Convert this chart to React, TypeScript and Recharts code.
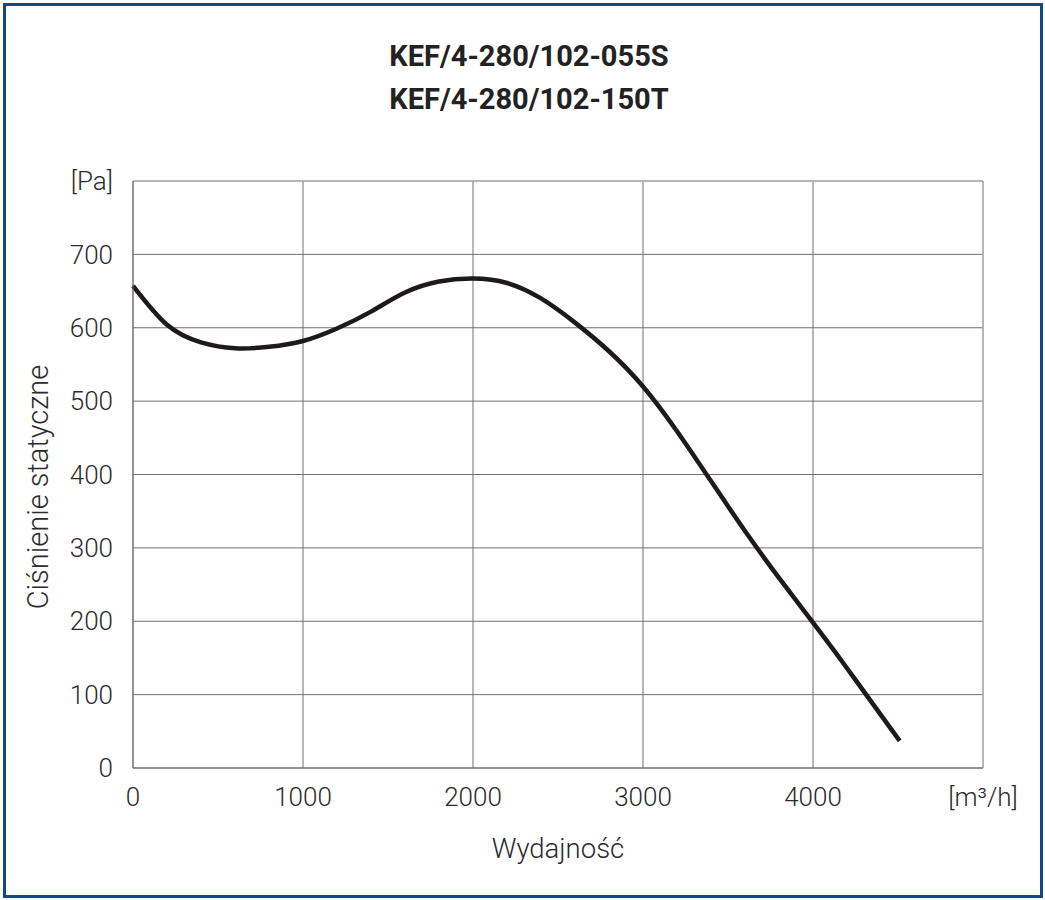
import { CartesianGrid, Line, LineChart, ReferenceLine, XAxis, YAxis } from 'recharts'

// Charakterystyka wentylatora: wydajność [m3/h] -> ciśnienie statyczne [Pa]
const wydajnosc = [0, 200, 400, 600, 800, 1000, 1200, 1400, 1600, 1800, 2000, 2200, 2400, 2600, 2800, 3000, 3200, 3400, 3600, 3800, 4000, 4200, 4400, 4510]
const cisnienie = [657, 604, 580, 572, 574, 582, 599, 622, 648, 663, 667, 661, 640, 607, 568, 520, 459, 391, 323, 259, 198, 136, 72, 37]

const xTicks = [0, 1000, 2000, 3000, 4000, 5000]
const yTicks = [0, 100, 200, 300, 400, 500, 600, 700, 800]

const tytul = ['KEF/4-280/102-055S', 'KEF/4-280/102-150T']

const data = wydajnosc.map((q, i) => ({ q, p: cisnienie[i] }))

const font = 'Roboto, "Noto Sans", sans-serif'
const tick = { fontSize: 26, fill: '#2b2b2b', fontFamily: font, fontWeight: 300 }

export default function App() {
  return (
    <div style={{ position: 'absolute', left: 0, top: 0, width: 1045, height: 900, background: '#fff' }}>
      <div
        style={{
          position: 'absolute',
          left: 3,
          top: 3,
          width: 1040,
          height: 895,
          boxSizing: 'border-box',
          border: '3px solid #0d4a87',
        }}
      />
      <div
        style={{
          position: 'absolute',
          left: 329,
          top: 35,
          width: 400,
          textAlign: 'center',
          fontFamily: font,
          fontWeight: 700,
          fontSize: 29,
          lineHeight: '43px',
          color: '#222',
        }}
      >
        {tytul.map((t) => (
          <div key={t}>{t}</div>
        ))}
      </div>

      <div style={{ position: 'absolute', left: 0, top: 0 }}>
        <LineChart width={1045} height={900} data={data} margin={{ top: 181, right: 62, bottom: 0, left: 0 }}>
          <CartesianGrid stroke="#707070" strokeWidth={1} />
          <XAxis
            dataKey="q"
            type="number"
            domain={[0, 5000]}
            ticks={xTicks}
            height={132}
            tickSize={0}
            tickMargin={20}
            tick={tick}
            stroke="#707070"
            tickFormatter={(v) => (v === 5000 ? '[m³/h]' : String(v))}
          />
          <YAxis
            type="number"
            domain={[0, 800]}
            ticks={yTicks}
            width={133}
            tickSize={0}
            tickMargin={20}
            tick={tick}
            stroke="#707070"
            tickFormatter={(v) => (v === 800 ? '[Pa]' : String(v))}
          />
          <ReferenceLine y={800} stroke="#b4b4b4" />
          <ReferenceLine x={5000} stroke="#b4b4b4" />
          <Line
            type="natural"
            dataKey="p"
            stroke="#1e1a1a"
            strokeWidth={4.5}
            dot={false}
            isAnimationActive={false}
          />
        </LineChart>
      </div>

      <div
        style={{
          position: 'absolute',
          left: 38,
          top: 487,
          transform: 'translate(-50%, -50%) rotate(-90deg)',
          whiteSpace: 'nowrap',
          fontFamily: font,
          fontWeight: 300,
          fontSize: 29,
          color: '#2b2b2b',
        }}
      >
        Ciśnienie statyczne
      </div>
      <div
        style={{
          position: 'absolute',
          left: 558,
          top: 848,
          transform: 'translate(-50%, -50%)',
          whiteSpace: 'nowrap',
          fontFamily: font,
          fontWeight: 300,
          fontSize: 27.5,
          color: '#2b2b2b',
        }}
      >
        Wydajność
      </div>
    </div>
  )
}
